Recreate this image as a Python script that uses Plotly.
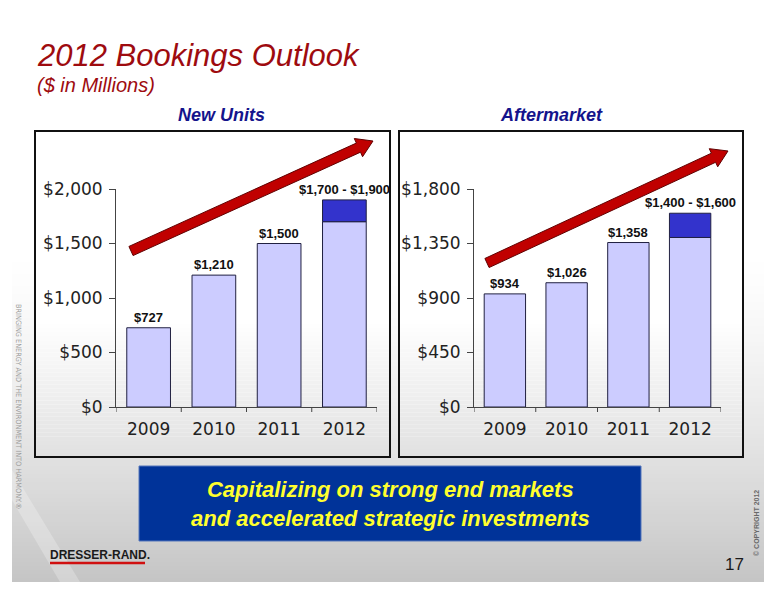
import math
import plotly.graph_objects as go
from plotly.subplots import make_subplots

# ---------------- data ----------------
years = ["2009", "2010", "2011", "2012"]
new_units_base = [727, 1210, 1500, 1700]
new_units_range = [0, 0, 0, 200]
new_units_labels = ["$727", "$1,210", "$1,500", "$1,700 - $1,900"]
new_units_ticks = [0, 500, 1000, 1500, 2000]
new_units_ticktext = ["$0", "$500", "$1,000", "$1,500", "$2,000"]

aftermarket_base = [934, 1026, 1358, 1400]
aftermarket_range = [0, 0, 0, 200]
aftermarket_labels = ["$934", "$1,026", "$1,358", "$1,400 - $1,600"]
aftermarket_ticks = [0, 450, 900, 1350, 1800]
aftermarket_ticktext = ["$0", "$450", "$900", "$1,350", "$1,800"]

# page geometry (browser body margin of 8px around the figure)
OX, OY = 8, 8
FW, FH = 760, 584


def px(x):
    return (x - OX) / FW


def py(y):
    return 1 - (y - OY) / FH


LIGHT = "#CCCCFF"
DARK = "#3333CC"
OUTLINE = "#202040"
TICKFONT = dict(family="DejaVu Sans, Verdana, sans-serif", size=17, color="#222222")
LABELFONT = dict(family="Liberation Sans, Arial, sans-serif", size=13, color="#111111")

fig = make_subplots(rows=1, cols=2)
idx = list(range(len(years)))

for col, base, rng in [(1, new_units_base, new_units_range), (2, aftermarket_base, aftermarket_range)]:
    fig.add_trace(go.Bar(x=idx, y=base, marker=dict(color=LIGHT, line=dict(color=OUTLINE, width=1)),
                         showlegend=False, hoverinfo="skip"), row=1, col=col)
    top_y = [v if v > 0 else None for v in rng]
    top_base = [b if v > 0 else None for b, v in zip(base, rng)]
    fig.add_trace(go.Bar(x=idx, y=top_y, base=top_base,
                         marker=dict(color=DARK, line=dict(color=OUTLINE, width=1)),
                         showlegend=False, hoverinfo="skip"), row=1, col=col)

ydom = [py(407), py(189)]
fig.update_layout(
    template="none",
    barmode="overlay",
    bargap=0.33,
    width=FW, height=FH,
    margin=dict(l=0, r=0, t=0, b=0, pad=0),
    paper_bgcolor="white",
    plot_bgcolor="rgba(0,0,0,0)",
    showlegend=False,
    xaxis=dict(domain=[px(116), px(377)]),
    xaxis2=dict(domain=[px(474), px(721)]),
    yaxis=dict(domain=ydom, range=[0, 2000], tickvals=new_units_ticks, ticktext=new_units_ticktext),
    yaxis2=dict(domain=ydom, range=[0, 1800], tickvals=aftermarket_ticks, ticktext=aftermarket_ticktext),
)
fig.update_xaxes(type="linear", range=[-0.5, len(years) - 0.5], tickmode="array", tickvals=idx,
                 ticktext=years, automargin=False, showline=True, linecolor="#444444", linewidth=1,
                 ticks="outside", ticklen=7, tickcolor="rgba(0,0,0,0)", tickfont=TICKFONT,
                 showgrid=False, zeroline=False, tickangle=0)
fig.update_yaxes(tickmode="array", automargin=False, showline=True, linecolor="#444444", linewidth=1,
                 ticks="outside", ticklen=6, tickcolor="#444444", tickfont=TICKFONT,
                 ticklabelstandoff=3, showgrid=False, zeroline=False)

bounds = [i - 0.5 for i in range(len(years) + 1)]

annotations = []
shapes = []

# data labels and category boundary tick marks
for xr, yr, base, rng, labels in [("x", "y", new_units_base, new_units_range, new_units_labels),
                                  ("x2", "y2", aftermarket_base, aftermarket_range, aftermarket_labels)]:
    for i, b, r, lab in zip(idx, base, rng, labels):
        total = b + r
        annotations.append(dict(x=i, y=total, xref=xr, yref=yr, text="<b>%s</b>" % lab,
                                showarrow=False, yanchor="bottom", yshift=1, font=LABELFONT))
    for bx in bounds:
        shapes.append(dict(type="line", xref=xr, yref=yr + " domain", x0=bx, x1=bx,
                           y0=0, y1=-5 / 218, line=dict(color="#444444", width=1)))

RED = "#9E0B0F"
annotations += [
    dict(x=px(35), y=py(55), xref="paper", yref="paper", xanchor="left", yanchor="middle",
         text="<i>2012 Bookings Outlook</i>", showarrow=False,
         font=dict(family="Liberation Sans, Arial", size=31, color=RED)),
    dict(x=px(35), y=py(85), xref="paper", yref="paper", xanchor="left", yanchor="middle",
         text="<i>($ in Millions)</i>", showarrow=False,
         font=dict(family="Liberation Sans, Arial", size=20, color=RED)),
    dict(x=px(221), y=py(115), xref="paper", yref="paper", xanchor="center", yanchor="middle",
         text="<b><i>New Units</i></b>", showarrow=False,
         font=dict(family="Liberation Sans, Arial", size=18, color="#14148C")),
    dict(x=px(551), y=py(115), xref="paper", yref="paper", xanchor="center", yanchor="middle",
         text="<b><i>Aftermarket</i></b>", showarrow=False,
         font=dict(family="Liberation Sans, Arial", size=18, color="#14148C")),
    dict(x=px(390), y=py(504), xref="paper", yref="paper", xanchor="center", yanchor="middle",
         text="<b><i>Capitalizing on strong end markets<br>and accelerated strategic investments</i></b>",
         showarrow=False, align="center",
         font=dict(family="Liberation Sans, Arial", size=22, color="#FFFF2E")),
    dict(x=px(18), y=py(406), xref="paper", yref="paper", xanchor="center", yanchor="middle",
         text="BRINGING ENERGY AND THE ENVIRONMENT INTO HARMONY.®", textangle=90, showarrow=False,
         font=dict(family="DejaVu Sans Condensed, Liberation Sans Narrow, Liberation Sans", size=7.3,
                   color="#9C9C9C")),
    dict(x=px(756), y=py(523), xref="paper", yref="paper", xanchor="center", yanchor="middle",
         text="<b>© COPYRIGHT 2012</b>", textangle=-90, showarrow=False,
         font=dict(family="Liberation Sans, Arial", size=7, color="#686868")),
    dict(x=px(734), y=py(564), xref="paper", yref="paper", xanchor="center", yanchor="middle",
         text="17", showarrow=False,
         font=dict(family="Liberation Sans, Arial", size=17, color="#1A1A1A")),
    dict(x=px(48), y=py(555), xref="paper", yref="paper", xanchor="left", yanchor="middle",
         text="<b>DRESSER-RAND.</b>", showarrow=False,
         font=dict(family="Liberation Sans Narrow, Arial Narrow, Liberation Sans", size=12, color="#1A1A1A")),
]

bg = []
# slide background gradient
y0, y1 = 250, 582
n = 83
for i in range(n):
    ya = y0 + (y1 - y0) * i / n
    yb = y0 + (y1 - y0) * (i + 1) / n
    t = (i + 0.5) / n
    c = int(round(255 - 58 * t ** 1.4))
    bg.append(dict(type="rect", xref="paper", yref="paper", x0=px(12), x1=px(764),
                   y0=py(yb), y1=py(ya), fillcolor="rgb(%d,%d,%d)" % (c, c, c),
                   line=dict(width=0), layer="below"))
# faint diagonal swoosh
bg.append(dict(type="path", xref="paper", yref="paper",
               path="M %f %f L %f %f L %f %f L %f %f Z" % (px(12), py(500), px(60), py(582),
                                                          px(80), py(582), px(12), py(470)),
               fillcolor="rgba(255,255,255,0.25)", line=dict(width=0), layer="below"))

# panels
for xa, xb in [(35, 390), (399, 743)]:
    bg.append(dict(type="rect", xref="paper", yref="paper", x0=px(xa), x1=px(xb),
                   y0=py(457), y1=py(131), fillcolor="white", line=dict(width=0), layer="below"))
    pa, pb = 320, 457
    m = 34
    for i in range(m):
        ya = pa + (pb - pa) * i / m
        yb = pa + (pb - pa) * (i + 1) / m
        t = (i + 0.5) / m
        c = int(round(255 - 30 * t))
        bg.append(dict(type="rect", xref="paper", yref="paper", x0=px(xa), x1=px(xb),
                       y0=py(yb), y1=py(ya), fillcolor="rgb(%d,%d,%d)" % (c, c, c),
                       line=dict(width=0), layer="below"))
    bg.append(dict(type="rect", xref="paper", yref="paper", x0=px(xa), x1=px(xb),
                   y0=py(457), y1=py(131), line=dict(color="#111111", width=2), layer="below"))

# blue message box
bg.append(dict(type="rect", xref="paper", yref="paper", x0=px(139), x1=px(641),
               y0=py(541), y1=py(466), fillcolor="#003399", line=dict(color="#5577BB", width=1),
               layer="below"))
# logo underline
bg.append(dict(type="line", xref="paper", yref="paper", x0=px(50), x1=px(145),
               y0=py(563), y1=py(563), line=dict(color="#D01010", width=2.5)))


def arrow(tail, tip, shaft=5.0, head_w=10.0, head_l=16.0):
    dx, dy = tip[0] - tail[0], tip[1] - tail[1]
    L = math.hypot(dx, dy)
    ux, uy = dx / L, dy / L
    nx, ny = -uy, ux
    bx, by = tip[0] - ux * head_l, tip[1] - uy * head_l
    pts = [
        (tail[0] + nx * shaft, tail[1] + ny * shaft),
        (bx + nx * shaft, by + ny * shaft),
        (bx + nx * head_w, by + ny * head_w),
        tip,
        (bx - nx * head_w, by - ny * head_w),
        (bx - nx * shaft, by - ny * shaft),
        (tail[0] - nx * shaft, tail[1] - ny * shaft),
    ]
    path = "M " + " L ".join("%f %f" % (px(x), py(y)) for x, y in pts) + " Z"
    return dict(type="path", xref="paper", yref="paper", path=path,
                fillcolor="#C00000", line=dict(color="#600000", width=1), layer="above")


bg.append(arrow((131, 251), (373, 141)))
bg.append(arrow((487, 263), (728, 151)))

fig.update_layout(shapes=bg + shapes, annotations=annotations)
fig.write_html("out.html")
